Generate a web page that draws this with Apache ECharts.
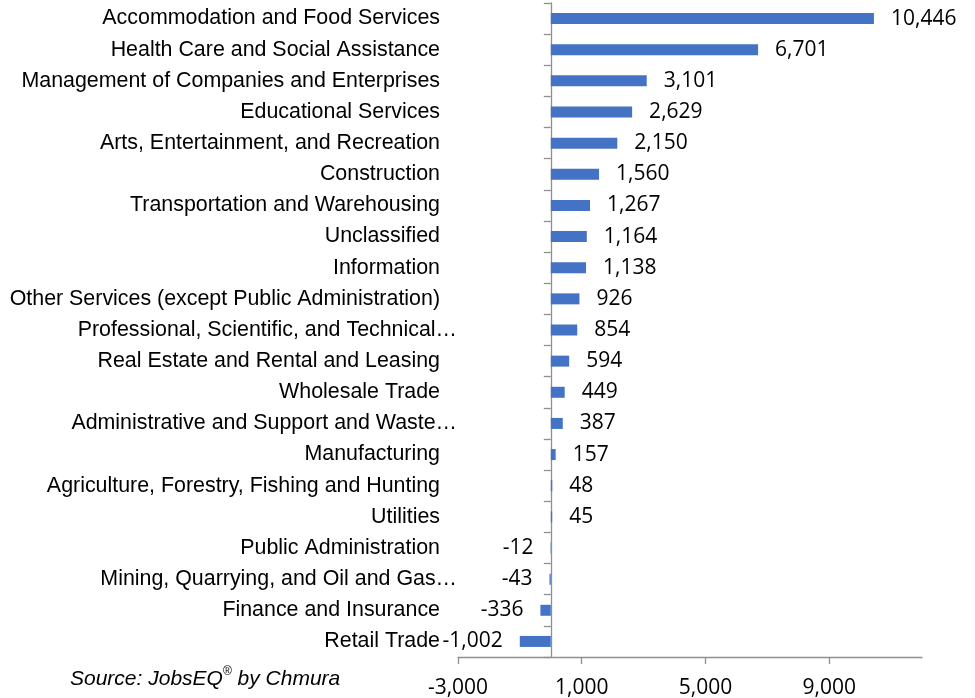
<!DOCTYPE html>
<html>
<head>
<meta charset="utf-8">
<script src="https://cdn.jsdelivr.net/npm/echarts@6/dist/echarts.min.js"></script>
<style>
  html, body { margin: 0; padding: 0; background: #fff; }
  #chart { width: 975px; height: 698px; }
</style>
</head>
<body>
<div id="chart"></div>
<script>
// Industry employment change, listed top to bottom
const categories = [
  'Accommodation and Food Services',
  'Health Care and Social Assistance',
  'Management of Companies and Enterprises',
  'Educational Services',
  'Arts, Entertainment, and Recreation',
  'Construction',
  'Transportation and Warehousing',
  'Unclassified',
  'Information',
  'Other Services (except Public Administration)',
  'Professional, Scientific, and Technical…',
  'Real Estate and Rental and Leasing',
  'Wholesale Trade',
  'Administrative and Support and Waste…',
  'Manufacturing',
  'Agriculture, Forestry, Fishing and Hunting',
  'Utilities',
  'Public Administration',
  'Mining, Quarrying, and Oil and Gas…',
  'Finance and Insurance',
  'Retail Trade'
];
const values = [10446, 6701, 3101, 2629, 2150, 1560, 1267, 1164, 1138, 926, 854, 594, 449, 387, 157, 48, 45, -12, -43, -336, -1002];
const xTickValues = [-3000, 1000, 5000, 9000];
const sourceNote = ['Source: JobsEQ', '®', ' by Chmura'];

const fmt = v => v.toLocaleString('en-US');
const axisGray = '#8f8f8f';
const numFont = '"Open Sans", "Noto Sans", sans-serif';
const catFont = '"Liberation Sans", Arial, sans-serif';

const chart = echarts.init(document.getElementById('chart'), null, { renderer: 'canvas' });

chart.setOption({
  animation: false,
  backgroundColor: '#fff',
  grid: {
    left: 458, right: 53, top: 3, bottom: 41,
    containLabel: false, outerBoundsMode: 'none'
  },
  xAxis: {
    type: 'value',
    min: -3000,
    max: 12000,
    splitLine: { show: false },
    axisLine: { show: true, lineStyle: { color: axisGray, width: 1.3 } },
    axisTick: { show: true, length: 7, customValues: xTickValues, lineStyle: { color: axisGray, width: 1.3 } },
    axisLabel: {
      customValues: xTickValues,
      formatter: v => fmt(v),
      color: '#000', fontSize: 21, fontFamily: numFont, margin: 21
    }
  },
  yAxis: [
    {
      // category names along the left edge of the plot
      type: 'category',
      position: 'left',
      data: categories,
      inverse: true,
      axisLine: { show: false, onZero: false },
      axisTick: { show: false },
      axisLabel: {
        margin: 1,
        formatter: v => v.endsWith('…') ? '{e|' + v + '}' : '{n|' + v + '}',
        rich: {
          n: { color: '#000', fontSize: 21.4, fontFamily: catFont, padding: [0, 17, 0, 0] },
          e: { color: '#000', fontSize: 21.4, fontFamily: catFont }
        }
      }
    },
    {
      // axis line with ticks crossing at zero
      type: 'category',
      position: 'left',
      data: categories,
      inverse: true,
      axisLine: { show: true, onZero: true, lineStyle: { color: axisGray, width: 1.3 } },
      axisTick: { show: true, length: 7, lineStyle: { color: axisGray, width: 1.3 } },
      axisLabel: { show: false }
    }
  ],
  series: [{
    type: 'bar',
    yAxisIndex: 0,
    barWidth: 11,
    itemStyle: { color: '#4472C4' },
    label: {
      show: true,
      distance: 17,
      color: '#000',
      fontSize: 21,
      fontFamily: numFont,
      formatter: p => fmt(p.value)
    },
    data: values.map(v => ({ value: v, label: { position: v < 0 ? 'left' : 'right' } }))
  }],
  graphic: [{
    type: 'text',
    left: 70,
    top: 666,
    style: {
      text: '{a|' + sourceNote[0] + '}{s|' + sourceNote[1] + '}{a|' + sourceNote[2] + '}',
      rich: {
        a: { fontSize: 21, fontStyle: 'italic', fontFamily: catFont, fill: '#000', lineHeight: 26 },
        s: { fontSize: 12, fontFamily: catFont, fill: '#000', verticalAlign: 'top', lineHeight: 26, padding: [0, 0, 10, 0] }
      }
    }
  }]
});
</script>
</body>
</html>
